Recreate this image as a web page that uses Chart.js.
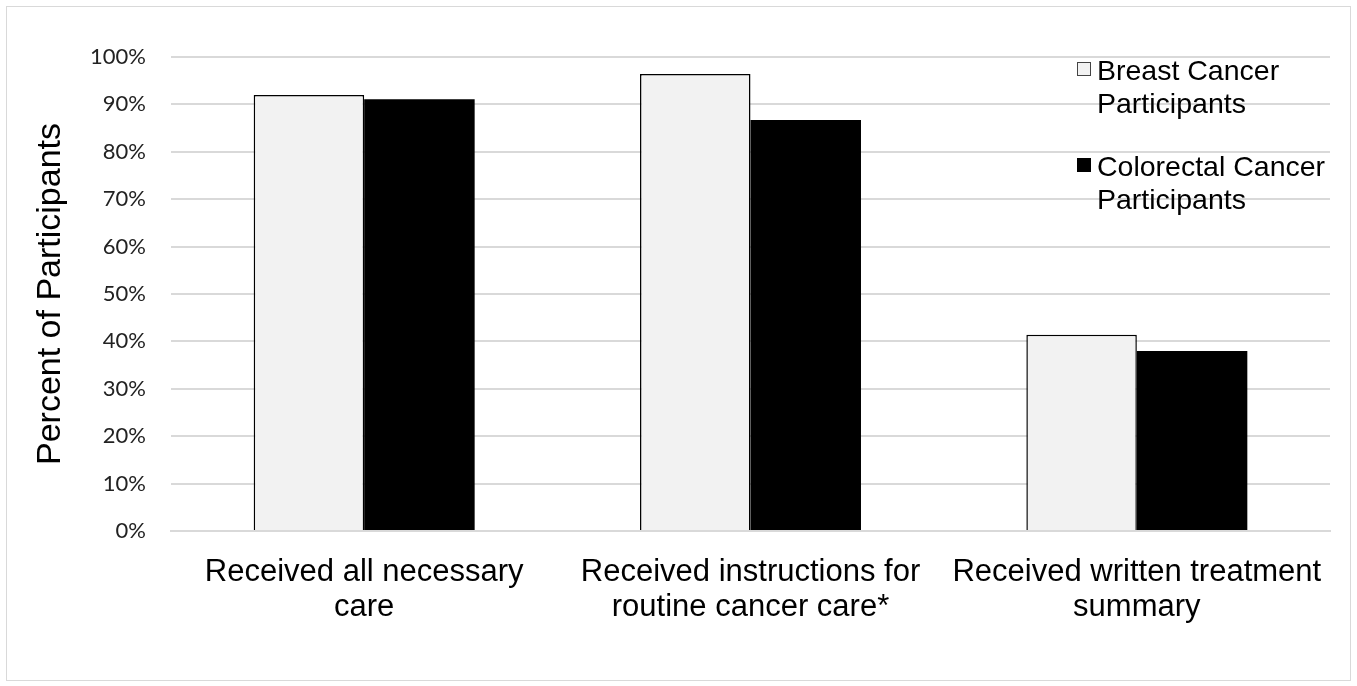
<!DOCTYPE html>
<html>
<head>
<meta charset="utf-8">
<script src="https://cdn.jsdelivr.net/npm/chart.js@4"></script>
<style>
  html, body { margin: 0; padding: 0; background: #fff; }
  #wrap { position: relative; width: 1357px; height: 686px; overflow: hidden; }
  #frame { position: absolute; left: 6px; top: 6px; width: 1343px; height: 673px; border: 1px solid #d9d9d9; box-sizing: content-box; }
  canvas { position: absolute; left: 0; top: 0; }
  .leg { position: absolute; font-family: "Liberation Sans", Arial, sans-serif; font-size: 28.5px; color: #000; line-height: 33px; white-space: nowrap; }
  .sw { position: absolute; width: 14px; height: 14px; box-sizing: border-box; }
</style>
</head>
<body>
<div id="wrap">
  <div id="frame"></div>
  <canvas id="c" width="1357" height="686"></canvas>
  <div class="sw" style="left:1077px; top:62px; border:1px solid #444; background:#f2f2f2;"></div>
  <div class="leg" style="left:1097px; top:54px;">Breast Cancer<br>Participants</div>
  <div class="sw" style="left:1077px; top:158px; background:#000;"></div>
  <div class="leg" style="left:1097px; top:150px;">Colorectal Cancer<br>Participants</div>
</div>
<script>
const categories = [
  ["Received all necessary", "care"],
  ["Received instructions for", "routine cancer care*"],
  ["Received written treatment", "summary"]
];
const seriesNames = ["Breast Cancer Participants", "Colorectal Cancer Participants"];
const breastValues = [92.0, 96.4, 41.4];
const colorectalValues = [91.1, 86.7, 38.0];
const yTicks = [0, 10, 20, 30, 40, 50, 60, 70, 80, 90, 100];

new Chart(document.getElementById('c'), {
  type: 'bar',
  data: {
    labels: categories,
    datasets: [
      { label: seriesNames[0], data: breastValues, backgroundColor: '#f2f2f2', borderColor: '#000', borderWidth: 1.5, borderSkipped: 'bottom' },
      { label: seriesNames[1], data: colorectalValues, backgroundColor: '#000', borderColor: '#000', borderWidth: 0 }
    ]
  },
  options: {
    responsive: false,
    animation: false,
    events: [],
    layout: { padding: { left: 0, right: 27, top: 57, bottom: 0 } },
    plugins: { legend: { display: false }, tooltip: { enabled: false } },
    datasets: { bar: { categoryPercentage: 0.572, barPercentage: 1.0 } },
    scales: {
      x: {
        grid: { display: false, drawTicks: false },
        border: { display: true, color: '#d9d9d9', width: 2 },
        ticks: {
          color: '#000',
          font: { family: '"Liberation Sans", Arial, sans-serif', size: 31, lineHeight: 1.13 },
          padding: 24,
          maxRotation: 0,
          autoSkip: false
        },
        afterFit(scale) { scale.height = 686 - 531; }
      },
      y: {
        min: 0, max: 100,
        afterBuildTicks(scale) { scale.ticks = yTicks.map(v => ({ value: v })); },
        grid: { color: '#d9d9d9', lineWidth: 2, drawTicks: false },
        border: { display: false },
        ticks: {
          color: '#222',
          font: { family: 'Lato, "Open Sans", sans-serif', size: 22 },
          padding: 25,
          callback: v => v + '%'
        },
        title: {
          display: true,
          text: 'Percent of Participants',
          color: '#000',
          font: { family: '"Liberation Sans", Arial, sans-serif', size: 34 },
          padding: { top: 30, bottom: 0 }
        },
        afterFit(scale) { scale.width = 171; }
      }
    }
  }
});
</script>
</body>
</html>
